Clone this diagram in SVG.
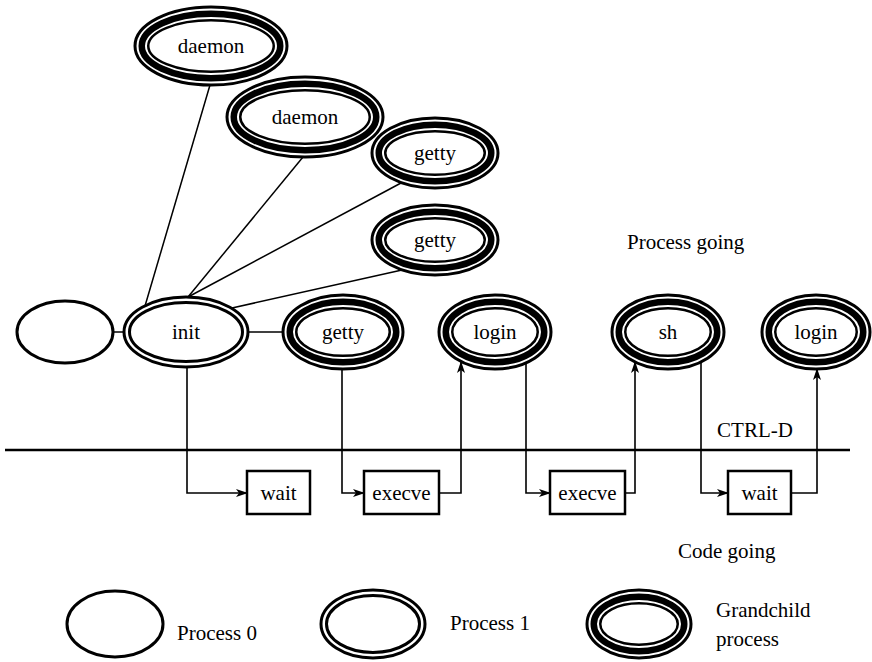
<svg xmlns="http://www.w3.org/2000/svg" width="872" height="662" viewBox="0 0 872 662">
  <style>
    text { font-family: "Liberation Serif", "Times New Roman", serif; font-size: 21px; fill: #000; }
    .c { text-anchor: middle; }
    .bg { fill: #fff; stroke: none; }
    .ring { fill: none; stroke: #000; stroke-width: 3; }
    .thin { fill: none; stroke: #000; stroke-width: 2.5; }
    .thick { fill: none; stroke: #000; stroke-width: 6.5; }
    .edge { fill: none; stroke: #000; stroke-width: 1.5; }
    .flow { fill: none; stroke: #000; stroke-width: 1.6; }
    .box { fill: #fff; stroke: #000; stroke-width: 2.5; }
    .axis { stroke: #000; stroke-width: 2.5; }
  </style>
  <defs>
    <marker id="arr" viewBox="0 0 12 8" refX="11" refY="4" markerWidth="12" markerHeight="8" markerUnits="userSpaceOnUse" orient="auto">
      <path d="M0,0 L12,4 L0,8 L3,4 z" fill="#000"/>
    </marker>
  </defs>

  <!-- process tree edges and code flow -->
  <g id="connectors">
    <line class="edge" x1="145" y1="306" x2="210" y2="85"/>
    <line class="edge" x1="188" y1="297" x2="303" y2="157"/>
    <line class="edge" x1="188" y1="297" x2="401" y2="183"/>
    <line class="edge" x1="232" y1="308" x2="402" y2="270"/>
    <line class="edge" x1="113" y1="332" x2="124" y2="332"/>
    <line class="edge" x1="248" y1="332" x2="282" y2="332"/>

    <line class="axis" x1="5" y1="450" x2="850" y2="450"/>

    <polyline class="flow" points="187,367 187,493 247,493" marker-end="url(#arr)"/>
    <polyline class="flow" points="342,369 342,493 364,493" marker-end="url(#arr)"/>
    <polyline class="flow" points="439,493 461,493 461,362" marker-end="url(#arr)"/>
    <polyline class="flow" points="526,363 526,493 550,493" marker-end="url(#arr)"/>
    <polyline class="flow" points="625,493 635,493 635,362" marker-end="url(#arr)"/>
    <polyline class="flow" points="701,362 701,493 728,493" marker-end="url(#arr)"/>
    <polyline class="flow" points="791,493 817,493 817,369" marker-end="url(#arr)"/>
  </g>

  <!-- process 0 -->
  <g id="proc0">
    <ellipse class="bg" cx="65" cy="332" rx="48" ry="31"/>
    <ellipse class="ring" cx="65" cy="332" rx="48" ry="31"/>
  </g>

  <!-- init (process 1) -->
  <g id="init">
    <ellipse class="bg" cx="186" cy="332" rx="62" ry="35"/>
    <ellipse class="ring" cx="186" cy="332" rx="62" ry="35"/>
    <ellipse class="ring" cx="186" cy="332" rx="56.5" ry="29.5"/>
    <text class="c" x="186" y="339">init</text>
  </g>

  <!-- grandchild processes: thin ring, heavy band, thin ring -->
  <g id="daemon1">
    <ellipse class="bg" cx="211" cy="46" rx="76" ry="39"/>
    <ellipse class="ring" cx="211" cy="46" rx="76" ry="39"/>
    <ellipse class="thick" cx="211" cy="46" rx="69.25" ry="32.25"/>
    <ellipse class="thin" cx="211" cy="46" rx="62.75" ry="25.75"/>
    <text class="c" x="211" y="53">daemon</text>
  </g>
  <g id="daemon2">
    <ellipse class="bg" cx="305" cy="117" rx="78" ry="40"/>
    <ellipse class="ring" cx="305" cy="117" rx="78" ry="40"/>
    <ellipse class="thick" cx="305" cy="117" rx="71.25" ry="33.25"/>
    <ellipse class="thin" cx="305" cy="117" rx="64.75" ry="26.75"/>
    <text class="c" x="305" y="124">daemon</text>
  </g>
  <g id="getty1">
    <ellipse class="bg" cx="435" cy="153" rx="63" ry="35"/>
    <ellipse class="ring" cx="435" cy="153" rx="63" ry="35"/>
    <ellipse class="thick" cx="435" cy="153" rx="56.25" ry="28.25"/>
    <ellipse class="thin" cx="435" cy="153" rx="49.75" ry="21.75"/>
    <text class="c" x="435" y="160">getty</text>
  </g>
  <g id="getty2">
    <ellipse class="bg" cx="435" cy="240" rx="63" ry="35"/>
    <ellipse class="ring" cx="435" cy="240" rx="63" ry="35"/>
    <ellipse class="thick" cx="435" cy="240" rx="56.25" ry="28.25"/>
    <ellipse class="thin" cx="435" cy="240" rx="49.75" ry="21.75"/>
    <text class="c" x="435" y="247">getty</text>
  </g>
  <g id="getty3">
    <ellipse class="bg" cx="343" cy="332" rx="60" ry="37"/>
    <ellipse class="ring" cx="343" cy="332" rx="60" ry="37"/>
    <ellipse class="thick" cx="343" cy="332" rx="53.25" ry="30.25"/>
    <ellipse class="thin" cx="343" cy="332" rx="46.75" ry="23.75"/>
    <text class="c" x="343" y="339">getty</text>
  </g>
  <g id="login1">
    <ellipse class="bg" cx="495" cy="332" rx="56" ry="37"/>
    <ellipse class="ring" cx="495" cy="332" rx="56" ry="37"/>
    <ellipse class="thick" cx="495" cy="332" rx="49.25" ry="30.25"/>
    <ellipse class="thin" cx="495" cy="332" rx="42.75" ry="23.75"/>
    <text class="c" x="495" y="339">login</text>
  </g>
  <g id="sh">
    <ellipse class="bg" cx="668" cy="332" rx="56" ry="37"/>
    <ellipse class="ring" cx="668" cy="332" rx="56" ry="37"/>
    <ellipse class="thick" cx="668" cy="332" rx="49.25" ry="30.25"/>
    <ellipse class="thin" cx="668" cy="332" rx="42.75" ry="23.75"/>
    <text class="c" x="668" y="339">sh</text>
  </g>
  <g id="login2">
    <ellipse class="bg" cx="816" cy="332" rx="54" ry="37"/>
    <ellipse class="ring" cx="816" cy="332" rx="54" ry="37"/>
    <ellipse class="thick" cx="816" cy="332" rx="47.25" ry="30.25"/>
    <ellipse class="thin" cx="816" cy="332" rx="40.75" ry="23.75"/>
    <text class="c" x="816" y="339">login</text>
  </g>

  <!-- system calls -->
  <g id="wait1">
    <rect class="box" x="247" y="471" width="63" height="43"/>
    <text class="c" x="278.5" y="500">wait</text>
  </g>
  <g id="execve1">
    <rect class="box" x="364" y="471" width="75" height="43"/>
    <text class="c" x="401.5" y="500">execve</text>
  </g>
  <g id="execve2">
    <rect class="box" x="550" y="471" width="75" height="43"/>
    <text class="c" x="587.5" y="500">execve</text>
  </g>
  <g id="wait2">
    <rect class="box" x="728" y="471" width="63" height="43"/>
    <text class="c" x="759.5" y="500">wait</text>
  </g>

  <!-- annotations -->
  <g id="labels">
    <text x="627" y="249">Process going</text>
    <text class="c" x="755" y="437">CTRL-D</text>
    <text x="678" y="558">Code going</text>
  </g>

  <!-- legend -->
  <g id="legend-p0">
    <ellipse class="ring" cx="115" cy="624" rx="48" ry="33"/>
    <text x="177" y="640">Process 0</text>
  </g>
  <g id="legend-p1">
    <ellipse class="ring" cx="373" cy="624" rx="52" ry="34"/>
    <ellipse class="ring" cx="373" cy="624" rx="46.5" ry="28.5"/>
    <text x="450" y="630">Process 1</text>
  </g>
  <g id="legend-gc">
    <ellipse class="ring" cx="639" cy="624" rx="52" ry="34"/>
    <ellipse class="thick" cx="639" cy="624" rx="45.25" ry="27.25"/>
    <ellipse class="thin" cx="639" cy="624" rx="38.75" ry="20.75"/>
    <text x="716" y="617">Grandchild</text>
    <text x="716" y="646">process</text>
  </g>
</svg>
